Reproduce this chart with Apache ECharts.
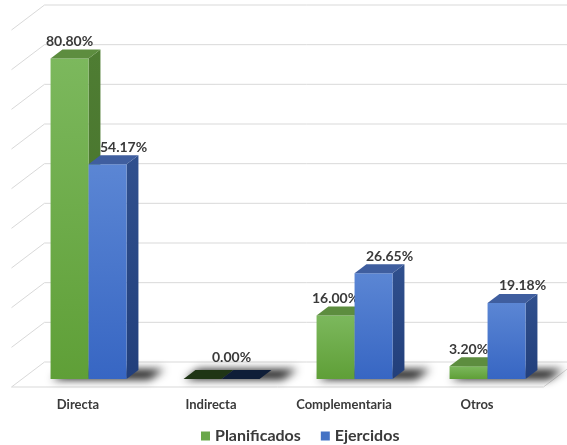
<!DOCTYPE html>
<html>
<head>
<meta charset="utf-8">
<script src="https://cdn.jsdelivr.net/npm/echarts@6/dist/echarts.min.js"></script>
<style>html,body{margin:0;padding:0;background:#fff;}#c{width:567px;height:445px;}</style>
</head>
<body>
<div id="c"></div>
<script>
const categories = ['Directa', 'Indirecta', 'Complementaria', 'Otros'];
const planificados = [80.80, 0.00, 16.00, 3.20];
const ejercidos = [54.17, 0.00, 26.65, 19.18];
const yTicks = [0, 10, 20, 30, 40, 50, 60, 70, 80, 90];

const DX = 33, DY = 25;      // depth of the floor (projection)
const F0 = 0.32, F1 = 0.68;  // bar front / back depth fraction
const BAR_FRAC = 0.2857;     // bar width / category band
const TXT = '#3a3a3a';
const GRID_C = '#d9d9d9';

const chart = echarts.init(document.getElementById('c'));

function fmt(v) { return v.toFixed(2) + '%'; }

function wallsItem(params, api) {
  const cs = params.coordSys;
  const v = api.value(1);
  const y = api.coord([0, v])[1];
  const children = [];
  const ls = { stroke: GRID_C, lineWidth: 1 };
  children.push({ type: 'line', shape: { x1: cs.x, y1: y, x2: cs.x + DX, y2: y - DY }, style: ls });
  children.push({ type: 'line', shape: { x1: cs.x + DX, y1: y - DY, x2: cs.x + cs.width + DX, y2: y - DY }, style: ls });
  if (v === 0) {
    children.push({ type: 'line', shape: { x1: cs.x, y1: y, x2: cs.x + cs.width, y2: y }, style: ls });
    children.push({ type: 'line', shape: { x1: cs.x + cs.width, y1: y, x2: cs.x + cs.width + DX, y2: y - DY }, style: ls });
  }
  return { type: 'group', children: children };
}

function shadowItem(params, api) {
  const idx = api.value(0);
  const base = api.coord([idx, 0]);
  const band = api.size([1, 0])[0];
  const w = band * BAR_FRAC;
  const xl = base[0] - w, xr = base[0] + w;
  const yb = base[1];
  const off = 1000;
  const d0 = F0 + 0.02, d1 = F1 + 0.06;
  const pts = [
    [xl + DX * d0 + 1 - off, yb - DY * d0],
    [xr + DX * d0 + 22 - off, yb - DY * d0],
    [xr + DX * d1 + 24 - off, yb - DY * d1],
    [xl + DX * d1 + 1 - off, yb - DY * d1]
  ];
  return {
    type: 'polygon',
    shape: { points: pts },
    style: { fill: '#000', shadowBlur: 9, shadowColor: 'rgba(0,0,0,0.9)', shadowOffsetX: off, shadowOffsetY: 1 }
  };
}

function makeBar(side, c) {
  return function (params, api) {
    const idx = api.value(0);
    const val = api.value(1);
    const top = api.coord([idx, val]);
    const base = api.coord([idx, 0]);
    const band = api.size([1, 0])[0];
    const w = band * BAR_FRAC;
    const x0 = side === 0 ? top[0] - w : top[0];
    const x1 = x0 + w;
    const fx = DX * F0, fy = DY * F0, bx = DX * F1, by = DY * F1;
    const yt = top[1], yb = base[1];
    const h = yb - yt;
    const children = [];
    children.push({
      type: 'polygon',
      shape: { points: [[x1 + fx, yt - fy], [x1 + bx, yt - by], [x1 + bx, yb - by], [x1 + fx, yb - fy]] },
      style: { fill: new echarts.graphic.LinearGradient(0, 0, 0, 1, [{ offset: 0, color: c.side0 }, { offset: 1, color: c.side1 }]) }
    });
    if (h > 0.5) {
      children.push({
        type: 'rect',
        shape: { x: x0 + fx, y: yt - fy, width: w, height: h },
        style: { fill: new echarts.graphic.LinearGradient(0, 0, 0, 1, [{ offset: 0, color: c.front0 }, { offset: 1, color: c.front1 }]) }
      });
    }
    children.push({
      type: 'polygon',
      shape: { points: [[x0 + fx, yt - fy], [x1 + fx, yt - fy], [x1 + bx, yt - by], [x0 + bx, yt - by]] },
      style: { fill: h > 0.5 ? c.top : c.flat }
    });
    const other = side === 0 ? ejercidos[idx] : planificados[idx];
    let show = true, lx = x0 + fx + w / 2 + (side === 0 ? 0 : 16), ly = yt - fy - 17;
    if (val === 0 && other === 0) {
      if (side === 0) show = false;
      else { lx = x0 + fx + 10; ly = yt - fy - 22; }
    }
    if (show) {
      children.push({
        type: 'text',
        style: { text: fmt(val), x: lx, y: ly, align: 'center', verticalAlign: 'middle', fill: TXT, font: 'bold 14px Lato' }
      });
    }
    return { type: 'group', children: children };
  };
}

const green = { front0: '#7cb85d', front1: '#5f9f37', side0: '#4f7d33', side1: '#44702a', top: '#5d8d3f', flat: '#1f3515' };
const blue = { front0: '#5b86d4', front1: '#3766c3', side0: '#30508e', side1: '#223f7b', top: '#3f5e9f', flat: '#0f1e38' };

chart.setOption({
  animation: false,
  backgroundColor: '#fff',
  grid: { left: 11.5, top: 30, width: 532, height: 357 },
  legend: {
    data: ['Planificados', 'Ejercidos'],
    left: 196, top: 423,
    icon: 'rect', itemWidth: 9, itemHeight: 9, itemGap: 20,
    textStyle: { fontFamily: 'Lato', fontWeight: 'bold', fontSize: 16, color: TXT }
  },
  xAxis: {
    type: 'category', data: categories,
    axisLine: { show: false }, axisTick: { show: false }, splitLine: { show: false },
    axisLabel: { margin: 11, fontFamily: 'Lato', fontWeight: 'bold', fontSize: 13, color: TXT, interval: 0 }
  },
  yAxis: { type: 'value', min: 0, max: 90, interval: 10, show: false },
  series: [
    { type: 'custom', name: 'walls', silent: true, z: 0, renderItem: wallsItem, encode: { x: 0, y: 1 },
      data: yTicks.map(v => [0, v]) },
    { type: 'custom', name: 'sombra', silent: true, z: 1, renderItem: shadowItem, encode: { x: 0, y: 1 },
      data: categories.map((c, i) => [i, 0]) },
    { type: 'custom', name: 'Planificados', z: 2, renderItem: makeBar(0, green), encode: { x: 0, y: 1 },
      itemStyle: { color: '#6aa84a' }, data: planificados.map((v, i) => [i, v]) },
    { type: 'custom', name: 'Ejercidos', z: 3, renderItem: makeBar(1, blue), encode: { x: 0, y: 1 },
      itemStyle: { color: '#4472c4' }, data: ejercidos.map((v, i) => [i, v]) }
  ]
});
</script>
</body>
</html>
